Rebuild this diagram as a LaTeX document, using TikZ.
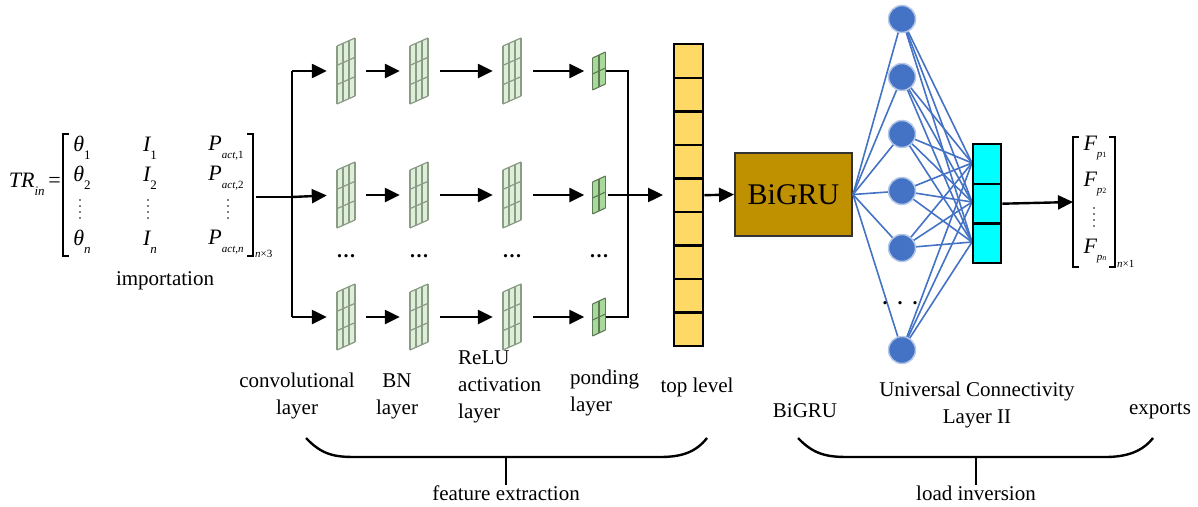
\documentclass[tikz,border=0pt]{standalone}
\usepackage{fontspec}
\setmainfont{Liberation Serif}
\usetikzlibrary{arrows.meta}
\definecolor{topy}{HTML}{FFD966}
\definecolor{bigru}{HTML}{BF9000}
\definecolor{nblue}{HTML}{4472C4}
\definecolor{nedge}{HTML}{B4C7E7}
\definecolor{cyanc}{HTML}{00FFFF}
\definecolor{gfill}{HTML}{DDEFD6}
\definecolor{gline}{HTML}{8C9A88}
\definecolor{pfill}{HTML}{A9D99A}
\definecolor{pline}{HTML}{5E7A55}
\newcommand{\sbs}[1]{\raisebox{-0.35em}{\fontsize{13}{13}\selectfont #1}}
\newcommand{\sbt}[1]{\raisebox{-0.35em}{\fontsize{11}{11}\selectfont #1}}
\begin{document}
\begin{tikzpicture}[x=1pt,y=-1pt,
  arr/.style={line width=2.4pt,-{Triangle[length=15pt,width=14pt]}},
  thick line/.style={line width=2.4pt},
  lbl/.style={font=\fontsize{21}{27}\selectfont,align=center,inner sep=0pt},
  ent/.style={font=\fontsize{22}{22}\selectfont\itshape,inner sep=0pt},
  fmbox/.style={minimum width=18pt,minimum height=66pt,inner sep=0pt},
  plbox/.style={minimum width=13pt,minimum height=34pt,inner sep=0pt},
  neuron/.style={circle,fill=nblue,draw=nedge,line width=1.5pt,minimum size=27pt,inner sep=0pt},
  conn/.style={draw=nblue,line width=1.6pt},
  vdot/.style={circle,fill=black,inner sep=0pt,minimum size=1.8pt},
  fmap/.pic={
    \fill[gfill] (-9,-25) -- (9,-33) -- (9,25) -- (-9,33) -- cycle;
    \foreach \t in {-9,-3,3,9}{
      \draw[gline,line width=1.2pt] (\t,{-25-(\t+9)*8/18}) -- ++(0,58);}
    \foreach \k in {0,1,2,3}{
      \draw[gline,line width=1.2pt] (-9,{-25+\k*58/3}) -- (9,{-33+\k*58/3});}
  },
  pool/.pic={
    \fill[pfill] (-6.5,-13) -- (6.5,-19) -- (6.5,13) -- (-6.5,19) -- cycle;
    \foreach \t in {-6.5,0,6.5}{
      \draw[pline,line width=1.1pt] (\t,{-13-(\t+6.5)*6/13}) -- ++(0,32);}
    \foreach \k in {0,1,2}{
      \draw[pline,line width=1.1pt] (-6.5,{-13+\k*16}) -- (6.5,{-19+\k*16});}
  }
]
\useasboundingbox (0,0) rectangle (1198,506);

% ---------- input matrix ----------
\node[ent,anchor=east] (tr) at (61,184) {TR\sbs{\itshape in}\,\upshape =};
\draw[line width=1.1pt] (69,134) -- (63,134) -- (63,256) -- (69,256);
\draw[line width=1.1pt] (247,134) -- (253,134) -- (253,256) -- (247,256);
\node[ent] (a11) at (82,148) {θ\sbs{\upshape 1}};
\node[ent] (a12) at (150,148) {I\sbs{\upshape 1}};
\node[ent] (a13) at (226,148) {P\sbt{\itshape act\upshape ,1}};
\node[ent] (a21) at (82,178) {θ\sbs{\upshape 2}};
\node[ent] (a22) at (150,178) {I\sbs{\upshape 2}};
\node[ent] (a23) at (226,178) {P\sbt{\itshape act\upshape ,2}};
\foreach \x in {80,148,228}{
  \foreach \yy in {200,206,212,218}{
    \node[vdot] at (\x,\yy) {};
  }
}
\node[ent] (a41) at (82,242) {θ\sbs{\itshape n}};
\node[ent] (a42) at (150,242) {I\sbs{\itshape n}};
\node[ent] (a43) at (226,242) {P\sbt{\itshape act\upshape ,\itshape n}};
\node[inner sep=0pt,anchor=west,font=\fontsize{11}{11}\selectfont] (dim1) at (255,254) {\textit{n}×3};
\node[lbl] (imp) at (165,281) {importation};
\coordinate (matR) at (256,197);
\coordinate (split) at (292,197);
\coordinate (splitT) at (292,71);
\coordinate (splitB) at (292,317);

% ---------- feature maps ----------
\foreach \r/\y in {1/71,2/195,3/317}{
  \foreach \c/\x in {1/346,2/419,3/512}{
    \node[fmbox] (f\r\c) at (\x,\y) {};
    \pic at (\x,\y) {fmap};
  }
  \node[plbox] (f\r4) at (599,\y) {};
  \pic at (599,\y) {pool};
}
\foreach \c/\x in {1/346,2/419,3/512,4/599}{
  \node[inner sep=0pt,font=\fontsize{20}{20}\selectfont\bfseries] (dots\c) at (\x,256) {.\kern1.5pt.\kern1.5pt.};
}

% branch lines
\draw[thick line] (matR) -- (split);
\draw[thick line] (splitT) -- (splitB);
\draw[arr,shorten >=10pt] (splitT) -- (f11.west);
\draw[arr,shorten >=10pt] (split) -- (f21.west);
\draw[arr,shorten >=10pt] (splitB) -- (f31.west);
\foreach \r in {1,2,3}{
  \draw[arr,shorten <=11pt,shorten >=10pt] (f\r1.east) -- (f\r2.west);
  \draw[arr,shorten <=12pt,shorten >=10pt] (f\r2.east) -- (f\r3.west);
  \draw[arr,shorten <=12pt,shorten >=8pt] (f\r3.east) -- (f\r4.west);
}

% ---------- top level ----------
\foreach \i in {0,...,8}{
  \node[draw=black,fill=topy,line width=2.4pt,minimum width=29pt,minimum height={302/9},inner sep=0pt,anchor=north west] (t\i) at (673,{43+\i*302/9}) {};
}
\draw[thick line] (f14.east) -- (628,71) -- (628,317) -- (f34.east);
\draw[arr,shorten <=2pt,shorten >=10pt] (f24.east) -- (f24.east -| t4.west);

% ---------- BiGRU ----------
\node[draw=black!80,fill=bigru,line width=2pt,minimum width=117pt,minimum height=83pt,inner sep=0pt,font=\fontsize{30}{30}\selectfont] (bg) at (793.5,194.5) {BiGRU};
\draw[arr] (t4.east) -- (bg.west);

% ---------- neurons ----------
\coordinate (p1) at (972,163);
\coordinate (p2) at (972,202);
\coordinate (p3) at (972,242);
\foreach \n/\y in {1/19,2/77,3/134,4/191,5/248,6/350}{
  \draw[conn] (bg.east) -- (902,\y);
  \foreach \p in {p1,p2,p3}{ \draw[conn] (902,\y) -- (\p); }
}
\foreach \n/\y in {1/19,2/77,3/134,4/191,5/248,6/350}{
  \node[neuron] (n\n) at (902,\y) {};
}
\node[inner sep=0pt,font=\fontsize{20}{20}\selectfont\bfseries] (ndots) at (900,303) {.\ \ .\ \ .};

% ---------- cyan output layer ----------
\foreach \i in {0,1,2}{
  \node[draw=black,fill=cyanc,line width=2.4pt,minimum width=28pt,minimum height={119/3},inner sep=0pt,anchor=north west] (c\i) at (972,{143+\i*119/3}) {};
}

% ---------- output vector ----------
\draw[line width=1.1pt] (1079,137) -- (1073,137) -- (1073,267) -- (1079,267);
\draw[line width=1.1pt] (1109,137) -- (1115,137) -- (1115,267) -- (1109,267);
\node[ent] (o1) at (1095,148) {F\sbt{\itshape p\fontsize{8}{8}\selectfont\upshape 1}};
\node[ent] (o2) at (1095,184) {F\sbt{\itshape p\fontsize{8}{8}\selectfont\upshape 2}};
\foreach \yy in {208,214,220,226}{
  \node[vdot] at (1094,\yy) {};
}
\node[ent] (o4) at (1095,251) {F\sbt{\itshape p\fontsize{8}{8}\selectfont n}};
\node[inner sep=0pt,anchor=west,font=\fontsize{11}{11}\selectfont] (dim2) at (1117,264) {\textit{n}×1};
\coordinate (outL) at (1073,202);
\draw[arr] (c1.east) -- (outL);

% ---------- bottom labels ----------
\node[lbl] (l1) at (297,396) {convolutional\\layer};
\node[lbl] (l2) at (397,396) {BN\\layer};
\node[lbl,align=left,anchor=north west] (l3) at (458,351) {ReLU\\activation\\layer};
\node[lbl,align=left,anchor=north west] (l4) at (570,370) {ponding\\layer};
\node[lbl] (l5) at (697,387) {top level};
\draw[thick line] (306,438) .. controls (322,455) and (335,457) .. (355,457) -- (660,457) .. controls (682,457) and (696,452) .. (707,438);
\coordinate (b1) at (506,457);
\node[lbl] (fe) at (506,493) {feature extraction};
\draw[thick line] (b1) -- (fe.north);

\node[lbl] (r1) at (805,411) {BiGRU};
\node[lbl] (r2) at (977,405) {Universal Connectivity\\Layer II};
\node[lbl] (r3) at (1160,411) {exports};
\draw[thick line] (798,438) .. controls (814,455) and (828,457) .. (848,457) -- (1105,457) .. controls (1126,457) and (1142,452) .. (1153,438);
\coordinate (b2) at (976,457);
\node[lbl] (li) at (976,493) {load inversion};
\draw[thick line] (b2) -- (li.north);
\end{tikzpicture}
\end{document}
